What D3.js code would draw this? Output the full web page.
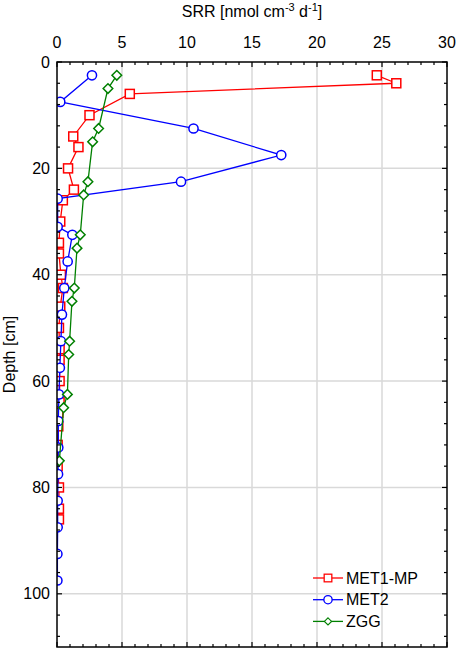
<!DOCTYPE html>
<html><head><meta charset="utf-8">
<script src="https://cdn.jsdelivr.net/npm/d3@7"></script>
<style>body{margin:0;background:#fff}svg{display:block}text{font-family:"Liberation Sans",Arial,sans-serif;fill:#000}</style>
</head><body>
<script>
const xTicks = [0,5,10,15,20,25,30];
const yTicks = [0,20,40,60,80,100];
const met1Depth = [2.5,4,6,10,14,16,20,24,26,30,34,36,40,42.5,46,50,54,56,60,64,66,68.5,72,76,80,84,86];
const met1SRR   = [24.6,26.1,5.6,2.5,1.25,1.65,0.85,1.3,0.45,0.25,0.15,0.15,0.3,0.45,0.25,0.15,0.2,0.2,0.2,0.2,0.1,0.1,0.05,0.05,0.15,0.15,0.15];
const met2Depth = [2.5,7.5,12.5,17.5,22.5,25.7,31,32.5,37.5,42.5,47.5,52.5,57.5,62.5,67.5,72.5,77.5,82.5,87.5,92.5,97.5];
const met2SRR   = [2.69,0.25,10.5,17.25,9.54,0.05,0.05,1.18,0.82,0.56,0.38,0.3,0.22,0.15,0.1,0.1,0.08,0.05,0.05,0.03,0.03];
const zggDepth  = [2.5,5,12.5,15,22.5,25,32.5,35,42.5,45,52.5,55,62.5,65,75];
const zggSRR    = [4.6,3.92,3.2,2.74,2.38,2.05,1.79,1.54,1.33,1.15,0.97,0.9,0.8,0.51,0.18];
const seriesNames = ["MET1-MP","MET2","ZGG"];
const seriesColors = ["#ff0000","#0000ff","#008000"];
const seriesShapes = ["square","circle","diamond"];

const W=457,H=650, L=57,R=447,T=62,B=647;
const svg=d3.select("body").append("svg").attr("width",W).attr("height",H);
const x=d3.scaleLinear().domain([0,30]).range([L,R]);
const y=d3.scaleLinear().domain([0,110]).range([T,B]);

// grid
const g=svg.append("g");
g.selectAll(".gx").data(xTicks.slice(1,-1)).join("line").attr("x1",d=>x(d)).attr("x2",d=>x(d)).attr("y1",T).attr("y2",B).attr("stroke","#d9d9d9").attr("stroke-width",1.5);
g.selectAll(".gy").data(yTicks.slice(1)).join("line").attr("x1",L).attr("x2",R).attr("y1",d=>y(d)).attr("y2",d=>y(d)).attr("stroke","#d9d9d9").attr("stroke-width",1.5);

svg.append("clipPath").attr("id","clip").append("rect").attr("x",L).attr("y",T).attr("width",R-L).attr("height",B-T);

const data=[[met1Depth,met1SRR],[met2Depth,met2SRR],[zggDepth,zggSRR]];
function marker(sel,shape,color){
  if(shape==="square") sel.append("rect").attr("x",-4.5).attr("y",-4.5).attr("width",9).attr("height",9);
  else if(shape==="circle") sel.append("circle").attr("r",4.6);
  else sel.append("path").attr("d","M0,-4.8L4.8,0L0,4.8L-4.8,0Z");
  sel.selectAll("*").attr("fill","#fff").attr("stroke",color).attr("stroke-width",1.5);
}
const plot=svg.append("g").attr("clip-path","url(#clip)");
data.forEach(([dep,val],i)=>{
  const pts=dep.map((d,j)=>[val[j],d]);
  plot.append("path").datum(pts).attr("fill","none").attr("stroke",seriesColors[i]).attr("stroke-width",1.3)
    .attr("d",d3.line().x(d=>x(d[0])).y(d=>y(d[1])));
  plot.selectAll(null).data(pts).join("g").attr("transform",d=>`translate(${x(d[0])},${y(d[1])})`)
    .each(function(){marker(d3.select(this),seriesShapes[i],seriesColors[i]);});
});

// frame
svg.append("rect").attr("x",L).attr("y",T).attr("width",R-L).attr("height",B-T).attr("fill","none").attr("stroke","#000").attr("stroke-width",1.5);
// ticks inward
const xMinor=d3.range(0,31,1), yMinor=d3.range(0,111,4);
const tk=svg.append("g").attr("stroke","#000").attr("stroke-width",1.2);
xMinor.forEach(v=>{const len=xTicks.includes(v)?5:3;
  tk.append("line").attr("x1",x(v)).attr("x2",x(v)).attr("y1",T).attr("y2",T+len);
  tk.append("line").attr("x1",x(v)).attr("x2",x(v)).attr("y1",B).attr("y2",B-len);});
yMinor.forEach(v=>{const len=yTicks.includes(v)?5:3;
  tk.append("line").attr("y1",y(v)).attr("y2",y(v)).attr("x1",L).attr("x2",L+len);
  tk.append("line").attr("y1",y(v)).attr("y2",y(v)).attr("x1",R).attr("x2",R-len);});

// labels
svg.selectAll(".xl").data(xTicks).join("text").attr("x",d=>x(d)).attr("y",48).attr("text-anchor","middle").attr("font-size",16).text(d=>d);
svg.selectAll(".yl").data(yTicks).join("text").attr("x",L-7).attr("y",d=>y(d)).attr("dy","0.35em").attr("text-anchor","end").attr("font-size",16).text(d=>d);
const t=svg.append("text").attr("x",(L+R)/2).attr("y",17).attr("text-anchor","middle").attr("font-size",16);
t.append("tspan").text("SRR [nmol cm");
t.append("tspan").attr("font-size",11).attr("dy",-6).text("-3");
t.append("tspan").attr("dy",6).text(" d");
t.append("tspan").attr("font-size",11).attr("dy",-6).text("-1");
t.append("tspan").attr("dy",6).text("]");
svg.append("text").attr("transform",`translate(15,${(T+B)/2}) rotate(-90)`).attr("text-anchor","middle").attr("font-size",16).text("Depth [cm]");

// legend
const lg=svg.append("g");
seriesNames.forEach((n,i)=>{
  const yy=578+i*21.7;
  lg.append("line").attr("x1",313).attr("x2",343).attr("y1",yy).attr("y2",yy).attr("stroke",seriesColors[i]).attr("stroke-width",1.3);
  const m=lg.append("g").attr("transform",`translate(328,${yy})`);
  marker(m,seriesShapes[i],seriesColors[i]);
  m.attr("transform",`translate(328,${yy}) scale(${i===0?0.85:i===1?0.9:0.75})`);
  lg.append("text").attr("x",346).attr("y",yy).attr("dy","0.35em").attr("font-size",16).text(n);
});
</script>
</body></html>
